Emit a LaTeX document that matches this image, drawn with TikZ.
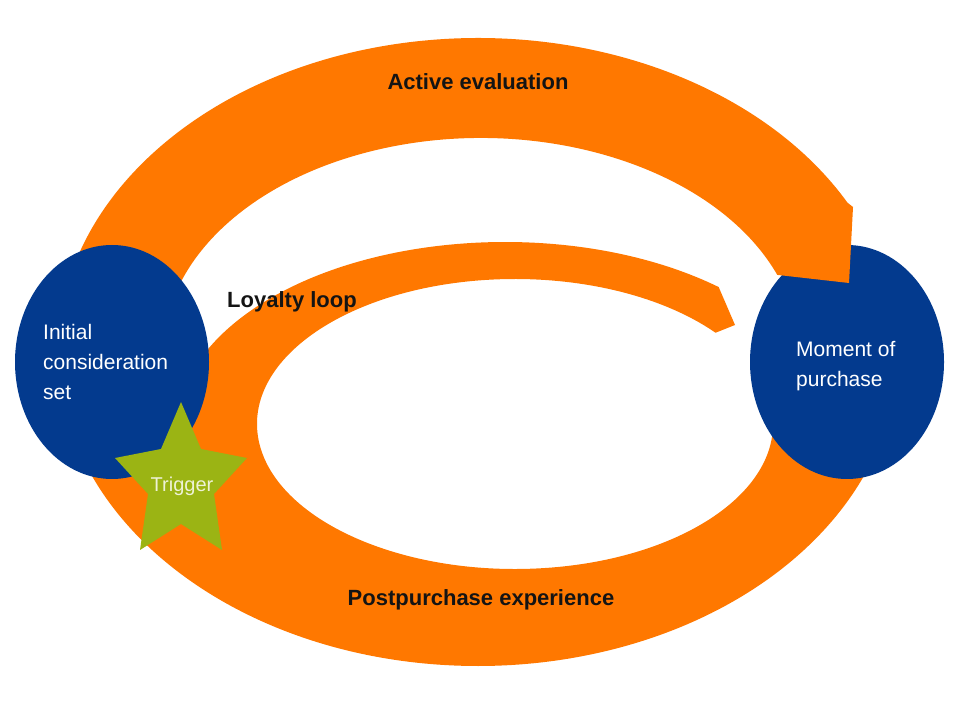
\documentclass[tikz,border=0pt]{standalone}
\usepackage{fontspec}
\setmainfont{Liberation Sans}
\usetikzlibrary{shapes.geometric,calc}
\definecolor{ringorange}{HTML}{FF7800}
\definecolor{navy}{HTML}{033A8E}
\definecolor{trigreen}{HTML}{9BB414}
\definecolor{trigtext}{HTML}{EEF2D6}
\begin{document}
\begin{tikzpicture}[x=1pt,y=1pt,
  band/.style={fill=ringorange, draw=none},
  stage/.style={ellipse, fill=navy, draw=none, inner sep=0pt, minimum width=194pt, minimum height=234pt},
  phase/.style={font=\fontsize{22}{26}\selectfont\bfseries, text=black!92, inner sep=0pt},
  stagetext/.style={font=\fontsize{21}{30}\selectfont, text=white, align=left, anchor=west, inner sep=0pt},
  startri/.style={fill=trigreen, draw=none}
]
\useasboundingbox (0,0) rectangle (960,720);
\fill[white] (0,0) rectangle (960,720);

% postpurchase band + loyalty loop
\fill[band] ($(478,368)+(180:420 and 314)$)
  arc[start angle=180, end angle=365, x radius=420, y radius=314]
  -- ($(515,296)+(5:258 and 145)$)
  arc[start angle=365, end angle=39, x radius=258, y radius=145]
  -- (735,395)
  -- ($(505,290)+(49.5:329 and 188)$)
  arc[start angle=49.5, end angle=180, x radius=329, y radius=188]
  -- cycle;

% moment of purchase
\node[stage] (mop) at (847,358) {};

% active evaluation band
\fill[band] ($(478,368)+(185:420 and 314)$)
  arc[start angle=185, end angle=28.4, x radius=420, y radius=314]
  -- (853,513) -- (849,437)
  -- ($(481,367)+(21.3:318 and 215)$)
  arc[start angle=21.3, end angle=185, x radius=318, y radius=215]
  -- cycle;

% initial consideration set
\node[stage] (ics) at (112,358) {};

% trigger star
\fill[startri] (181,318) -- (201,271) -- (247,262) -- (214,226) -- (222,170)
  -- (181,196) -- (140,170) -- (148,226) -- (115,262) -- (161,271) -- cycle;

% texts
\node[stagetext] (icstext) at (43,358) {Initial\\consideration\\set};
\node[stagetext] (moptext) at (796,354) {Moment of\\purchase};
\node[font=\fontsize{20}{24}\selectfont, text=trigtext, inner sep=0pt] (trigger) at (182,234) {Trigger};
\node[phase] (active) at (478,638) {Active evaluation};
\node[phase] (loyalty) at (292,418) {Loyalty loop};
\node[phase] (post) at (481,120) {Postpurchase experience};
\end{tikzpicture}
\end{document}
